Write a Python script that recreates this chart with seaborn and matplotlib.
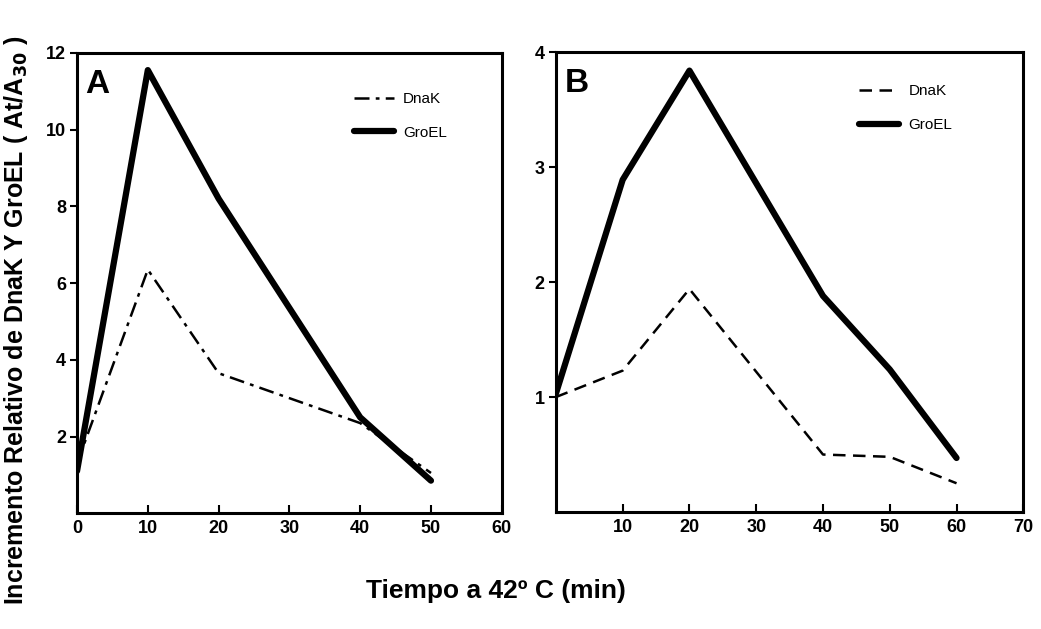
import numpy as np
import pandas as pd
import matplotlib
matplotlib.use("Agg")
import matplotlib.pyplot as plt
import seaborn as sns

# valores
tiempo_a = [0, 10, 20, 40, 50]
dnak_a = [1.3, 6.35, 3.65, 2.35, 1.05]
groel_a = [1.1, 11.55, 8.2, 2.5, 0.85]

tiempo_b = [0, 10, 20, 40, 50, 60]
dnak_b = [1.0, 1.23, 1.94, 0.5, 0.48, 0.25]
groel_b = [1.03, 2.89, 3.84, 1.88, 1.24, 0.47]

xticks_a = [0, 10, 20, 30, 40, 50, 60]
yticks_a = [2, 4, 6, 8, 10, 12]
xticks_b = [10, 20, 30, 40, 50, 60, 70]
yticks_b = [1, 2, 3, 4]


def armar_df(t, dnak, groel):
    d1 = pd.DataFrame({"t": t, "v": dnak, "prot": "DnaK"})
    d2 = pd.DataFrame({"t": t, "v": groel, "prot": "GroEL"})
    return pd.concat([d1, d2], ignore_index=True)


df_a = armar_df(tiempo_a, dnak_a, groel_a)
df_b = armar_df(tiempo_b, dnak_b, groel_b)

sns.set_style("ticks")
plt.rcParams["font.family"] = ["Liberation Sans", "DejaVu Sans"]
plt.rcParams["font.weight"] = "bold"
for k in ["text.color", "axes.edgecolor", "xtick.color", "ytick.color", "axes.labelcolor"]:
    plt.rcParams[k] = "black"

fig = plt.figure(figsize=(10.41, 6.29), dpi=100)
ax_a = fig.add_axes([0.074, 0.184, 0.408, 0.732])
ax_b = fig.add_axes([0.534, 0.186, 0.449, 0.731])

paleta = {"DnaK": "black", "GroEL": "black"}
grosor = {"DnaK": 1.8, "GroEL": 4.5}

for ax, df, dash_dnak, xt, yt, xlim, ylim, letra, pos_leg in [
    (ax_a, df_a, (6, 2.5, 1.5, 2.5), xticks_a, yticks_a, (0, 60), (0, 12), "A", (0.62, 0.945)),
    (ax_b, df_b, (5, 3), xticks_b, yticks_b, (0, 70), (0, 4), "B", (0.62, 0.96)),
]:
    sns.lineplot(data=df, x="t", y="v", hue="prot", size="prot", style="prot",
                 palette=paleta, sizes=grosor,
                 dashes={"DnaK": dash_dnak, "GroEL": ""},
                 ax=ax, sort=False, legend=True)
    ax.set_xlim(*xlim)
    ax.set_ylim(*ylim)
    ax.set_xticks(xt)
    ax.set_yticks(yt)
    ax.set_xlabel("")
    ax.set_ylabel("")
    for s in ax.spines.values():
        s.set_linewidth(2.2)
        s.set_visible(True)
    ax.tick_params(axis="x", direction="in", length=6, width=1.5, labelsize=13, pad=5)
    ax.tick_params(axis="y", direction="out", length=5, width=1.5, labelsize=13, pad=3)
    for lab in ax.get_xticklabels() + ax.get_yticklabels():
        lab.set_fontweight("bold")
    ax.text(0.02, 0.965, letra, transform=ax.transAxes, fontsize=24,
            fontweight="heavy", va="top", ha="left")
    leg = ax.legend(loc="upper left", bbox_to_anchor=pos_leg, frameon=False,
                    fontsize=11, handlelength=2.6, labelspacing=1.3,
                    handletextpad=0.6)
    for txt in leg.get_texts():
        txt.set_fontweight("normal")

fig.text(0.015, 0.49, "Incremento Relativo de DnaK Y GroEL ( At/A$_{30}$ )",
         rotation=90, va="center", ha="center", fontsize=18, fontweight="bold")
fig.text(0.476, 0.06, "Tiempo a 42º C (min)", ha="center", va="center",
         fontsize=19, fontweight="bold")

fig.savefig("out.png", dpi=100)
